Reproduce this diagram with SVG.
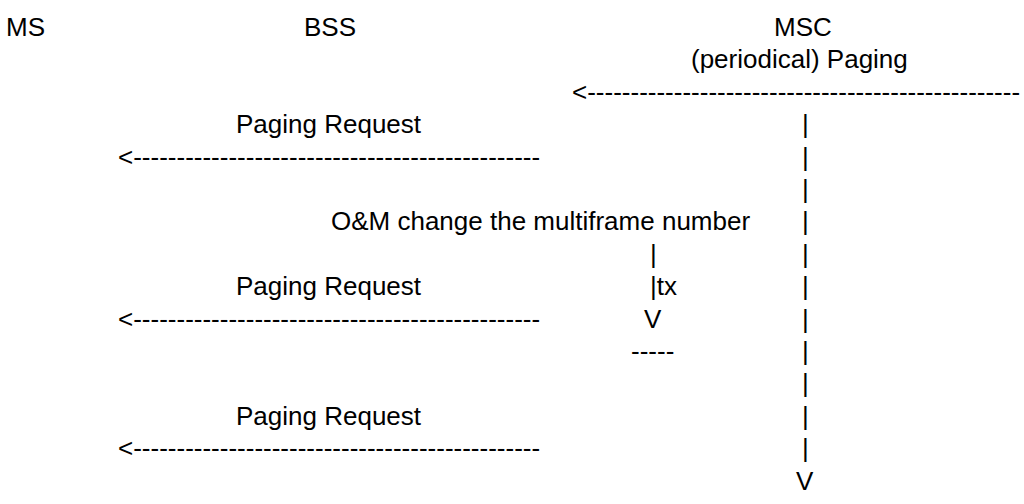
<svg xmlns="http://www.w3.org/2000/svg" width="1024" height="504" viewBox="0 0 1024 504">
<style>
text{font-family:"Liberation Sans",Arial,sans-serif;font-size:26px;fill:#000}
</style>
<rect width="1024" height="504" fill="#fff"/>
<g id="ms"><text x="6" y="36">MS</text></g>
<g id="bss"><text x="304" y="36">BSS</text></g>
<g id="msc"><text x="774" y="36">MSC</text></g>
<g id="periodical-paging"><text x="691" y="68.4">(periodical) Paging</text></g>
<g id="paging-request-1"><text x="236" y="133.2">Paging Request</text></g>
<g id="om-change"><text x="331" y="230.4">O&amp;M change the multiframe number</text></g>
<g id="paging-request-2"><text x="236" y="295.2">Paging Request</text></g>
<g id="tx"><text x="650" y="262.8">|</text><text x="650" y="295.2">|tx</text><text x="644" y="327.6">V</text><text x="631" y="360">-----</text></g>
<g id="paging-request-3"><text x="236" y="424.8">Paging Request</text></g>
<g id="connectors">
<text x="572" y="100.8">&lt;--------------------------------------------------</text>
<text x="118" y="165.6">&lt;-----------------------------------------------</text>
<text x="118" y="327.6">&lt;-----------------------------------------------</text>
<text x="118" y="457.2">&lt;-----------------------------------------------</text>
<text x="802" y="133.2">|</text>
<text x="802" y="165.6">|</text>
<text x="802" y="198">|</text>
<text x="802" y="230.4">|</text>
<text x="802" y="262.8">|</text>
<text x="802" y="295.2">|</text>
<text x="802" y="327.6">|</text>
<text x="802" y="360">|</text>
<text x="802" y="392.4">|</text>
<text x="802" y="424.8">|</text>
<text x="802" y="457.2">|</text>
<text x="796" y="489.6">V</text>
</g>
</svg>
